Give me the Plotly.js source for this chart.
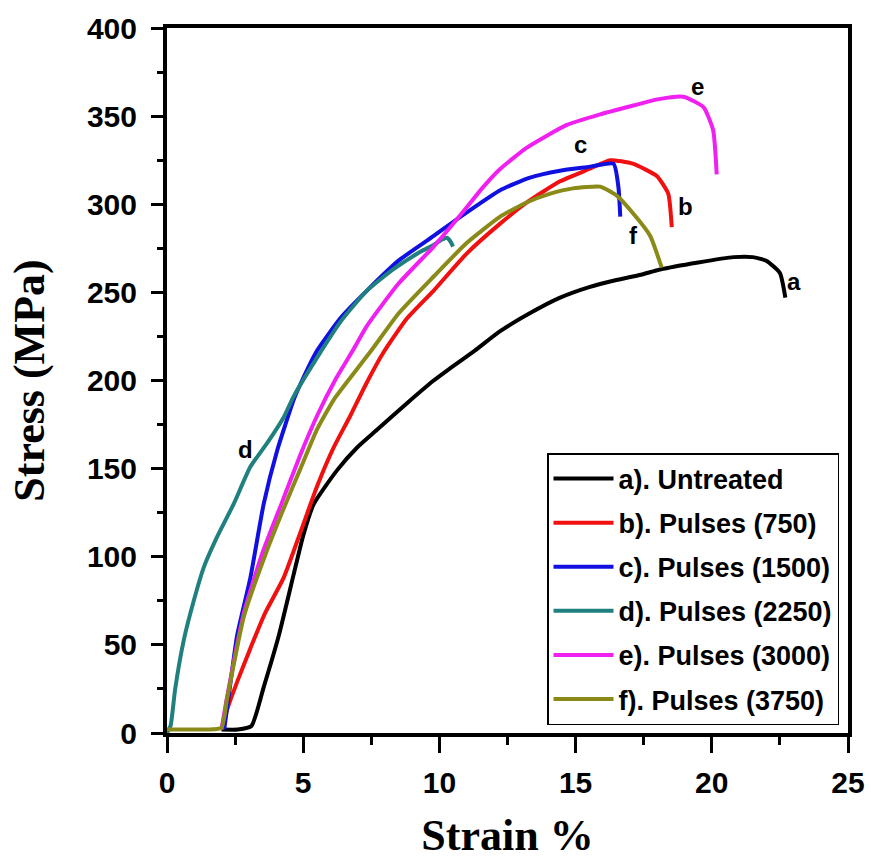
<!DOCTYPE html>
<html>
<head>
<meta charset="utf-8">
<script src="https://cdn.plot.ly/plotly-3.0.1.min.js"></script>
<style>html,body{margin:0;padding:0;background:#fff;}#chart{width:871px;height:865px;}</style>
</head>
<body>
<div id="chart"></div>
<script>
// Series names
const seriesNames = ["a). Untreated", "b). Pulses (750)", "c). Pulses (1500)", "d). Pulses (2250)", "e). Pulses (3000)", "f). Pulses (3750)"];
const seriesColors = ["#000000", "#f01010", "#1010e0", "#208080", "#f020f0", "#8a8a18"];

// a) Untreated
const aStrain = [2.0, 2.6, 3.1, 3.55, 4.1, 4.65, 5.0, 5.39, 6.24, 6.98, 7.71, 8.8, 9.79, 10.4, 11.3, 12.23, 13.3, 14.43, 15.5, 16.5, 17.4, 18.1, 19.5, 20.8, 21.5, 22.0, 22.5, 22.7];
const aStress = [2, 2, 4, 26, 55, 90, 112, 130, 149, 162, 172, 187, 200, 207, 217, 228, 238, 247, 253, 257, 260, 263, 267, 270, 270, 268, 261, 247];

// b) Pulses (750)
const bStrain = [2.0, 2.2, 2.6, 3.06, 3.6, 4.28, 4.9, 5.51, 6.12, 6.73, 7.34, 7.95, 8.8, 9.79, 11.0, 12.23, 13.3, 14.43, 15.5, 16.27, 17.1, 17.98, 18.4, 18.53];
const bStress = [2, 13, 30, 48, 68, 88, 114, 140, 162, 180, 199, 216, 235, 251, 272, 289, 302, 313, 320, 325, 323, 316, 306, 287];

// c) Pulses (1500)
const cStrain = [2.1, 2.3, 2.57, 3.06, 3.55, 4.04, 4.65, 4.9, 5.51, 6.4, 7.34, 8.5, 9.79, 10.78, 12.23, 13.3, 14.43, 15.4, 16.39, 16.57, 16.64];
const cStress = [2, 25, 55, 88, 130, 160, 189, 198, 217, 236, 251, 268, 282, 293, 308, 315, 319, 321, 323, 310, 293];

// d) Pulses (2250)
const dStrain = [0, 0.13, 0.3, 0.62, 1.0, 1.35, 1.8, 2.45, 3.06, 3.7, 4.28, 4.65, 5.51, 6.4, 7.34, 8.3, 9.3, 9.8, 10.1, 10.28, 10.4, 10.5];
const dStress = [0, 4, 25, 53, 76, 94, 110, 130, 151, 165, 179, 191, 213, 234, 251, 263, 273, 277, 280, 281, 279, 276];

// e) Pulses (3000)
const eStrain = [2.0, 2.2, 2.82, 3.5, 4.2, 4.9, 5.51, 6.2, 6.82, 7.34, 8.5, 9.79, 10.78, 11.62, 12.23, 13.2, 14.68, 15.9, 17.12, 18.0, 18.96, 19.7, 20.05, 20.18];
const eStress = [2, 20, 68, 102, 130, 158, 180, 201, 217, 231, 255, 276, 294, 310, 320, 332, 345, 351, 356, 359.5, 361, 355, 342, 317];

// f) Pulses (3750)
const fStrain = [0, 0.5, 1.0, 1.5, 2.0, 2.2, 2.82, 3.68, 4.3, 4.9, 5.5, 6.12, 6.8, 7.5, 8.5, 9.79, 11.0, 12.23, 13.2, 14.07, 14.9, 15.9, 16.5, 17.1, 17.74, 18.16];
const fStress = [2, 2, 2, 2, 3, 19, 66, 104, 128, 150, 172, 189, 203, 217, 238, 259, 278, 293, 301, 306, 309, 310, 305, 295, 282, 264];

// Curve labels
const labelText = ["a", "b", "c", "d", "e", "f"];
const labelStrain = [23.0, 19.02, 15.17, 2.88, 19.46, 17.11];
const labelStress = [256, 299, 334, 161, 367, 282];

// Axis ticks
const xTicks = [0, 5, 10, 15, 20, 25];
const yTicks = [0, 50, 100, 150, 200, 250, 300, 350, 400];

const xs = [aStrain, bStrain, cStrain, dStrain, eStrain, fStrain];
const ys = [aStress, bStress, cStress, dStress, eStress, fStress];

const traces = seriesNames.map((n, i) => ({
  type: "scatter", mode: "lines", name: n,
  x: xs[i], y: ys[i],
  line: {color: seriesColors[i], width: 4, shape: "spline", smoothing: 0.5},
  legendgroup: "g" + i
}));

const annotations = labelText.map((t, i) => ({
  x: labelStrain[i], y: labelStress[i], xref: "x", yref: "y",
  text: t, showarrow: false,
  font: {family: "Liberation Sans, Arial", size: 24, color: "#000", weight: "bold"}
}));

const tickFont = {family: "Liberation Sans, Arial", size: 30, color: "#000", weight: "bold"};
const titleFont = {family: "Liberation Serif, Times New Roman", size: 44, color: "#000", weight: "bold"};

const layout = {
  width: 871, height: 865,
  margin: {l: 167, r: 23, t: 28, b: 132},
  paper_bgcolor: "#fff", plot_bgcolor: "#fff",
  showlegend: true,
  legend: {
    x: (547 - 167) / 681, y: (733 - 453) / 705, xanchor: "left", yanchor: "top",
    bgcolor: "#fff", bordercolor: "#000", borderwidth: 1.5,
    font: {family: "Liberation Sans, Arial", size: 27, color: "#000", weight: "bold"},
    itemwidth: 60, tracegroupgap: 6, traceorder: "grouped"
  },
  xaxis: {
    range: [0, 25], tickvals: xTicks, ticktext: xTicks.map(String),
    showgrid: false, zeroline: false,
    showline: true, linecolor: "#000", linewidth: 4, mirror: true,
    ticks: "outside", ticklen: 16, tickwidth: 3, tickcolor: "#000",
    minor: {dtick: 2.5, ticks: "outside", ticklen: 8, tickwidth: 3, tickcolor: "#000"},
    tickfont: tickFont, ticklabelstandoff: 4,
    title: {text: "Strain %", font: titleFont, standoff: 22}
  },
  yaxis: {
    range: [0, 400], tickvals: yTicks, ticktext: yTicks.map(String),
    showgrid: false, zeroline: false,
    showline: true, linecolor: "#000", linewidth: 4, mirror: true,
    ticks: "outside", ticklen: 12, tickwidth: 3, tickcolor: "#000",
    minor: {dtick: 25, ticks: "outside", ticklen: 6, tickwidth: 3, tickcolor: "#000"},
    tickfont: tickFont, ticklabelstandoff: 8,
    title: {text: "Stress (MPa)", font: titleFont, standoff: 30}
  },
  annotations: annotations
};

Plotly.newPlot("chart", traces, layout, {displayModeBar: false, staticPlot: true});
</script>
</body>
</html>
